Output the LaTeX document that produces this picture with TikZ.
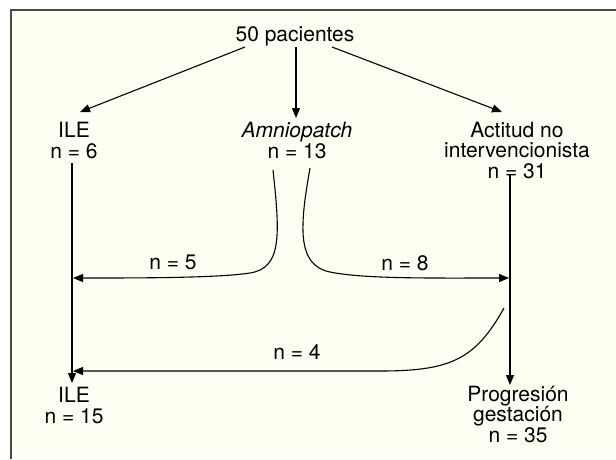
\documentclass[tikz,border=0pt]{standalone}
\usepackage{fontspec}
\setmainfont{TeX Gyre Heros}
\usetikzlibrary{arrows.meta}
\definecolor{bgcream}{RGB}{255,254,242}
\definecolor{framegray}{RGB}{72,72,72}
\begin{document}
\begin{tikzpicture}[x=1pt,y=-1pt,
  lbl/.style={font=\fontsize{21}{20.5}\selectfont, align=center, inner sep=0pt, anchor=base},
  arr/.style={line width=1.1pt, -{Triangle[length=10pt,width=8pt]}},
  ln/.style={line width=1.1pt}]
\useasboundingbox (0,0) rectangle (616,459);
\fill[bgcream] (11,10) rectangle (616,459);
\draw[framegray, line width=2pt] (11,459) -- (11,10) -- (616,10);

\node[lbl] (root) at (295,41) {50 pacientes};
\node[lbl] (ile1) at (74,158) {ILE\\n = 6};
\node[lbl] (amn) at (297,158) {\textit{Amniopatch}\\n = 13};
\node[lbl] (act) at (517,178) {Actitud no\\intervencionista\\n = 31};
\node[lbl] (ile2) at (74,423) {ILE\\n = 15};
\node[lbl] (prog) at (518,442) {Progresión\\gestación\\n = 35};
\node[lbl] (n5) at (173,269) {n = 5};
\node[lbl] (n8) at (405,270) {n = 8};
\node[lbl] (n4) at (297,359) {n = 4};

\coordinate (r1) at (245,47);
\coordinate (r2) at (296,47);
\coordinate (r3) at (332,47);
\coordinate (t1) at (80,112);
\coordinate (t2) at (296,118);
\coordinate (t3) at (502,112);
\draw[arr] (r1) -- (t1);
\draw[arr] (r2) -- (t2);
\draw[arr] (r3) -- (t3);

\coordinate (ileA) at (72,163);
\coordinate (ileB) at (72,383);
\coordinate (actA) at (510,175);
\coordinate (actB) at (510,385);
\draw[arr] (ileA) -- (ileB);
\draw[arr] (actA) -- (actB);

\coordinate (amnL) at (273,170);
\coordinate (amnR) at (310,168);
\coordinate (hitL) at (73,278);
\coordinate (hitR) at (509,278);
\draw[arr] (amnL) .. controls (280,235) and (282,268) .. (250,273)
  .. controls (218,278) and (140,278) .. (hitL);
\draw[arr] (amnR) .. controls (300,225) and (296,265) .. (330,272)
  .. controls (364,279) and (430,278) .. (hitR);

\coordinate (actC) at (504,308);
\coordinate (hitB) at (73,371);
\draw[arr] (actC) .. controls (475,360) and (450,371) .. (380,371) -- (hitB);
\end{tikzpicture}
\end{document}
